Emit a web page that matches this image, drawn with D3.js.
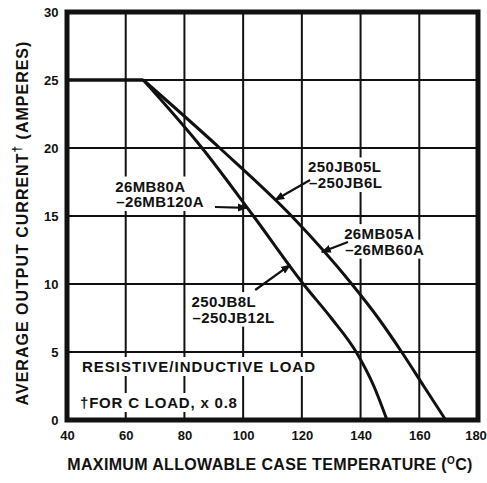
<!DOCTYPE html>
<html>
<head>
<meta charset="utf-8">
<script src="https://cdn.jsdelivr.net/npm/d3@7/dist/d3.min.js"></script>
<style>
  html, body { margin: 0; padding: 0; background: #fff; }
  svg { display: block; }
  text { font-family: "Liberation Sans", Arial, Helvetica, sans-serif; font-weight: bold; fill: #111; }
</style>
</head>
<body>
<svg id="chart" width="487" height="483"></svg>
<script>
// ---- data ----
const xTicks = [40, 60, 80, 100, 120, 140, 160, 180];
const yTicks = [0, 5, 10, 15, 20, 25, 30];

// 26MB80A–26MB120A / 250JB8L–250JB12L (inner curve)
const innerTemp = [40, 66, 86, 103.5, 120.5, 130, 138.5, 144.5, 149];
const innerAmps = [25, 25, 20, 15, 10, 7.5, 5, 2.5, 0];

// 250JB05L–250JB6L / 26MB05A–26MB60A (outer curve)
const outerTemp = [40, 66, 92, 116.5, 137, 146, 154, 161.5, 169];
const outerAmps = [25, 25, 20, 15, 10, 7.5, 5, 2.5, 0];

// curve labels: lines of text, anchor (temp, amps) of first baseline
const labelLines = [
  ["26MB80A", "–26MB120A"],
  ["250JB05L", "–250JB6L"],
  ["26MB05A", "–26MB60A"],
  ["250JB8L", "–250JB12L"]
];
const labelAt = [[56.4, 16.8], [122.1, 18.2], [134.4, 13.3], [82.4, 8.3]];
// arrows: from (temp, amps) to (temp, amps)
const arrowFrom = [[90.4, 15.66], [122.8, 17.65], [135.7, 13.09], [104.1, 9.56]];
const arrowTo   = [[101.3, 15.6], [110.9, 16.18], [126.8, 12.35], [116.0, 11.4]];

const noteLines = ["RESISTIVE/INDUCTIVE LOAD", "†FOR C LOAD, x 0.8"];

// ---- drawing ----
const svg = d3.select("#chart");
const x = d3.scaleLinear().domain([40, 180]).range([67, 478]);
const y = d3.scaleLinear().domain([0, 30]).range([420, 12]);

svg.append("defs").append("marker")
  .attr("id", "ah").attr("viewBox", "0 0 10 10")
  .attr("refX", 9).attr("refY", 5)
  .attr("markerWidth", 10).attr("markerHeight", 10)
  .attr("markerUnits", "userSpaceOnUse")
  .attr("orient", "auto")
  .append("path").attr("d", "M0,1 L10,5 L0,9 Z").attr("fill", "#111");

// grid
svg.append("g").selectAll("line").data(xTicks.slice(1, -1)).join("line")
  .attr("x1", d => x(d)).attr("x2", d => x(d))
  .attr("y1", y(0)).attr("y2", y(30))
  .attr("stroke", "#111").attr("stroke-width", 2);
svg.append("g").selectAll("line").data(yTicks.slice(1, -1)).join("line")
  .attr("x1", x(40)).attr("x2", x(180))
  .attr("y1", d => y(d)).attr("y2", d => y(d))
  .attr("stroke", "#111").attr("stroke-width", 2);

// axes labels
const xAxis = svg.append("g").attr("transform", `translate(0,${y(0)})`)
  .call(d3.axisBottom(x).tickValues(xTicks).tickSize(0).tickPadding(10.5));
xAxis.select(".domain").remove();
xAxis.selectAll("text").attr("font-size", 13).attr("font-family", null)
  .style("font-weight", "bold").attr("fill", "#111")
  .attr("dx", d => d === 180 ? -2.5 : 0);

const yAxis = svg.append("g").attr("transform", `translate(${x(40)},0)`)
  .call(d3.axisLeft(y).tickValues(yTicks).tickSize(0).tickPadding(8.5));
yAxis.select(".domain").remove();
yAxis.selectAll("text").attr("font-size", 13).attr("font-family", null).style("font-weight", "bold").attr("fill", "#111");

// curves: flat part straight, derating part smooth
const flat = d3.line().x(d => x(d[0])).y(d => y(d[1]));
const smooth = d3.line().x(d => x(d[0])).y(d => y(d[1])).curve(d3.curveMonotoneX);
const series = [
  d3.zip(innerTemp, innerAmps),
  d3.zip(outerTemp, outerAmps)
];
const cg = svg.append("g").attr("fill", "none").attr("stroke", "#111")
  .attr("stroke-width", 3).attr("stroke-linejoin", "round");
series.forEach(s => {
  cg.append("path").attr("d", flat(s.slice(0, 2)));
  cg.append("path").attr("d", smooth(s.slice(1)));
});

// frame
svg.append("rect")
  .attr("x", x(40)).attr("y", y(30))
  .attr("width", x(180) - x(40)).attr("height", y(0) - y(30))
  .attr("fill", "none").attr("stroke", "#111").attr("stroke-width", 5);

// helper: text with white box behind
function boxedText(g, tx, ty, str, size, ls, padX, padY) {
  const t = g.append("text").attr("x", tx).attr("y", ty)
    .attr("font-size", size).attr("letter-spacing", ls).text(str);
  const b = t.node().getBBox();
  g.insert("rect", "text")
    .attr("x", b.x - padX).attr("y", b.y - padY)
    .attr("width", b.width + 2 * padX).attr("height", b.height + 2 * padY)
    .attr("fill", "#fff");
  return t;
}

// curve labels
labelLines.forEach((lines, i) => {
  const g = svg.append("g");
  const lx = x(labelAt[i][0]), ly = y(labelAt[i][1]);
  lines.forEach((s, j) => {
    boxedText(g, lx + (j ? 1 : 0), ly + j * 15.5, s, 15, 0.4, 2, 1);
  });
});

// arrows
svg.append("g").selectAll("line").data(d3.range(arrowFrom.length)).join("line")
  .attr("x1", i => x(arrowFrom[i][0])).attr("y1", i => y(arrowFrom[i][1]))
  .attr("x2", i => x(arrowTo[i][0])).attr("y2", i => y(arrowTo[i][1]))
  .attr("stroke", "#111").attr("stroke-width", 2.2)
  .attr("marker-end", "url(#ah)");

// notes
const ng = svg.append("g");
boxedText(ng, 82, 372, noteLines[0], 15, 1, 2, 1);
boxedText(ng, 80, 408, noteLines[1], 15, 0.8, 2, 1);

// x title
const xt = svg.append("text").attr("x", 270).attr("y", 470)
  .attr("text-anchor", "middle").attr("font-size", 16).attr("letter-spacing", 0.35);
xt.append("tspan").text("MAXIMUM ALLOWABLE CASE TEMPERATURE (");
xt.append("tspan").attr("font-size", 10).attr("dy", -6).text("O");
xt.append("tspan").attr("dy", 6).text("C)");

// y title
const yt = svg.append("text").attr("transform", "translate(28,223) rotate(-90)")
  .attr("text-anchor", "middle").attr("font-size", 16).attr("letter-spacing", 1);
yt.append("tspan").text("AVERAGE OUTPUT CURRENT");
yt.append("tspan").attr("font-size", 12).attr("dy", -7).text("†");
yt.append("tspan").attr("dy", 7).text(" (AMPERES)");
</script>
</body>
</html>
